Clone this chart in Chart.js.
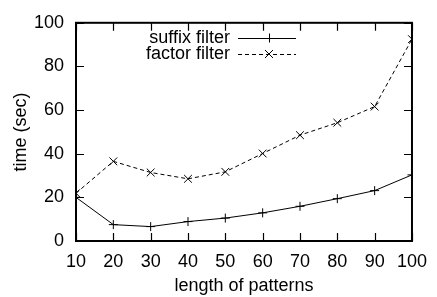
<!DOCTYPE html>
<html>
<head>
<meta charset="utf-8">
<script src="https://cdn.jsdelivr.net/npm/chart.js@4"></script>
<style>
  html, body { margin: 0; padding: 0; background: #fff; }
  #wrap { width: 437px; height: 297px; }
</style>
</head>
<body>
<div id="wrap"><canvas id="chart" width="437" height="297"></canvas></div>
<script>
// data
const lengths = [10, 20, 30, 40, 50, 60, 70, 80, 90, 100];
const suffixTimes = [20, 7.5, 6.6, 8.9, 10.5, 12.9, 15.9, 19.4, 23.1, 30.3];
const factorTimes = [21.9, 36.5, 31.4, 28.5, 31.7, 40.1, 48.5, 54.2, 61.6, 92.5];
const yTicks = [0, 20, 40, 60, 80, 100];

const FONT = "'Liberation Sans', Arial, sans-serif";
const FS = 18;

// gnuplot style: inward ticks on all four sides + box border
const boxTicks = {
  id: "boxTicks",
  afterDatasetsDraw(chart) {
    const { ctx, chartArea: a, scales } = chart;
    ctx.save();
    ctx.strokeStyle = "#000";
    ctx.lineWidth = 2;
    ctx.strokeRect(a.left, a.top, a.right - a.left, a.bottom - a.top);
    ctx.lineWidth = 1.2;
    const len = 8;
    ctx.beginPath();
    lengths.forEach((v) => {
      const x = Math.round(scales.x.getPixelForValue(v)) + 0.5;
      ctx.moveTo(x, a.bottom); ctx.lineTo(x, a.bottom - len);
      ctx.moveTo(x, a.top); ctx.lineTo(x, a.top + len);
    });
    yTicks.forEach((v) => {
      const y = Math.round(scales.y.getPixelForValue(v)) + 0.5;
      ctx.moveTo(a.left, y); ctx.lineTo(a.left + len, y);
      ctx.moveTo(a.right, y); ctx.lineTo(a.right - len, y);
    });
    ctx.stroke();
    ctx.restore();
  },
};

// legend inside the plot: right-aligned label, then line sample with marker
const keyBox = {
  id: "keyBox",
  afterDraw(chart) {
    const { ctx } = chart;
    const textRight = 230, x0 = 238, x1 = 296;
    const rows = [38, 54];
    ctx.save();
    ctx.font = FS + "px " + FONT;
    ctx.textAlign = "right";
    ctx.textBaseline = "middle";
    chart.data.datasets.forEach((ds, i) => {
      const y = rows[i];
      ctx.fillStyle = "#000";
      ctx.fillText(ds.label, textRight, y);
      ctx.strokeStyle = "#000";
      ctx.lineWidth = 1;
      ctx.setLineDash(ds.borderDash || []);
      ctx.beginPath();
      ctx.moveTo(x0, y + 0.5); ctx.lineTo(x1, y + 0.5);
      ctx.stroke();
      ctx.setLineDash([]);
      const cx = 269;
      ctx.beginPath();
      if (ds.pointStyle === "cross") {
        ctx.moveTo(cx - 4.5, y + 0.5); ctx.lineTo(cx + 4.5, y + 0.5);
        ctx.moveTo(cx + 0.5, y - 4.5); ctx.lineTo(cx + 0.5, y + 4.5);
      } else {
        ctx.moveTo(cx - 4, y - 4); ctx.lineTo(cx + 4, y + 4);
        ctx.moveTo(cx - 4, y + 4); ctx.lineTo(cx + 4, y - 4);
      }
      ctx.stroke();
    });
    ctx.restore();
  },
};

new Chart(document.getElementById("chart"), {
  type: "line",
  data: {
    datasets: [
      {
        label: "suffix filter",
        data: lengths.map((x, i) => ({ x, y: suffixTimes[i] })),
        borderColor: "#000",
        borderWidth: 1,
        pointStyle: "cross",
        pointRadius: 4.5,
        pointBorderWidth: 1,
        pointBorderColor: "#000",
        tension: 0,
      },
      {
        label: "factor filter",
        data: lengths.map((x, i) => ({ x, y: factorTimes[i] })),
        borderColor: "#000",
        borderWidth: 1,
        borderDash: [4, 3],
        pointStyle: "crossRot",
        pointRadius: 5.5,
        pointBorderWidth: 1,
        pointBorderColor: "#000",
        tension: 0,
      },
    ],
  },
  options: {
    responsive: false,
    animation: false,
    events: [],
    layout: { padding: { left: 0, right: 20, top: 19, bottom: 0 } },
    plugins: { legend: { display: false }, tooltip: { enabled: false } },
    scales: {
      x: {
        type: "linear",
        min: 10,
        max: 100,
        afterBuildTicks: (s) => { s.ticks = lengths.map((v) => ({ value: v })); },
        afterFit: (s) => { s.height = 56; },
        grid: { display: false, drawTicks: false },
        border: { display: false },
        ticks: { color: "#000", padding: 10, font: { family: FONT, size: FS }, maxRotation: 0 },
        title: { display: true, text: "length of patterns", color: "#000", padding: { top: 0, bottom: 0 }, font: { family: FONT, size: FS } },
      },
      y: {
        min: 0,
        max: 100,
        afterBuildTicks: (s) => { s.ticks = yTicks.map((v) => ({ value: v })); },
        afterFit: (s) => { s.width = 76; },
        grid: { display: false, drawTicks: false },
        border: { display: false },
        ticks: { color: "#000", padding: 12, font: { family: FONT, size: FS } },
        title: { display: true, text: "time (sec)", color: "#000", padding: { top: 10, bottom: 0 }, font: { family: FONT, size: FS } },
      },
    },
  },
  plugins: [boxTicks, keyBox],
});
</script>
</body>
</html>
